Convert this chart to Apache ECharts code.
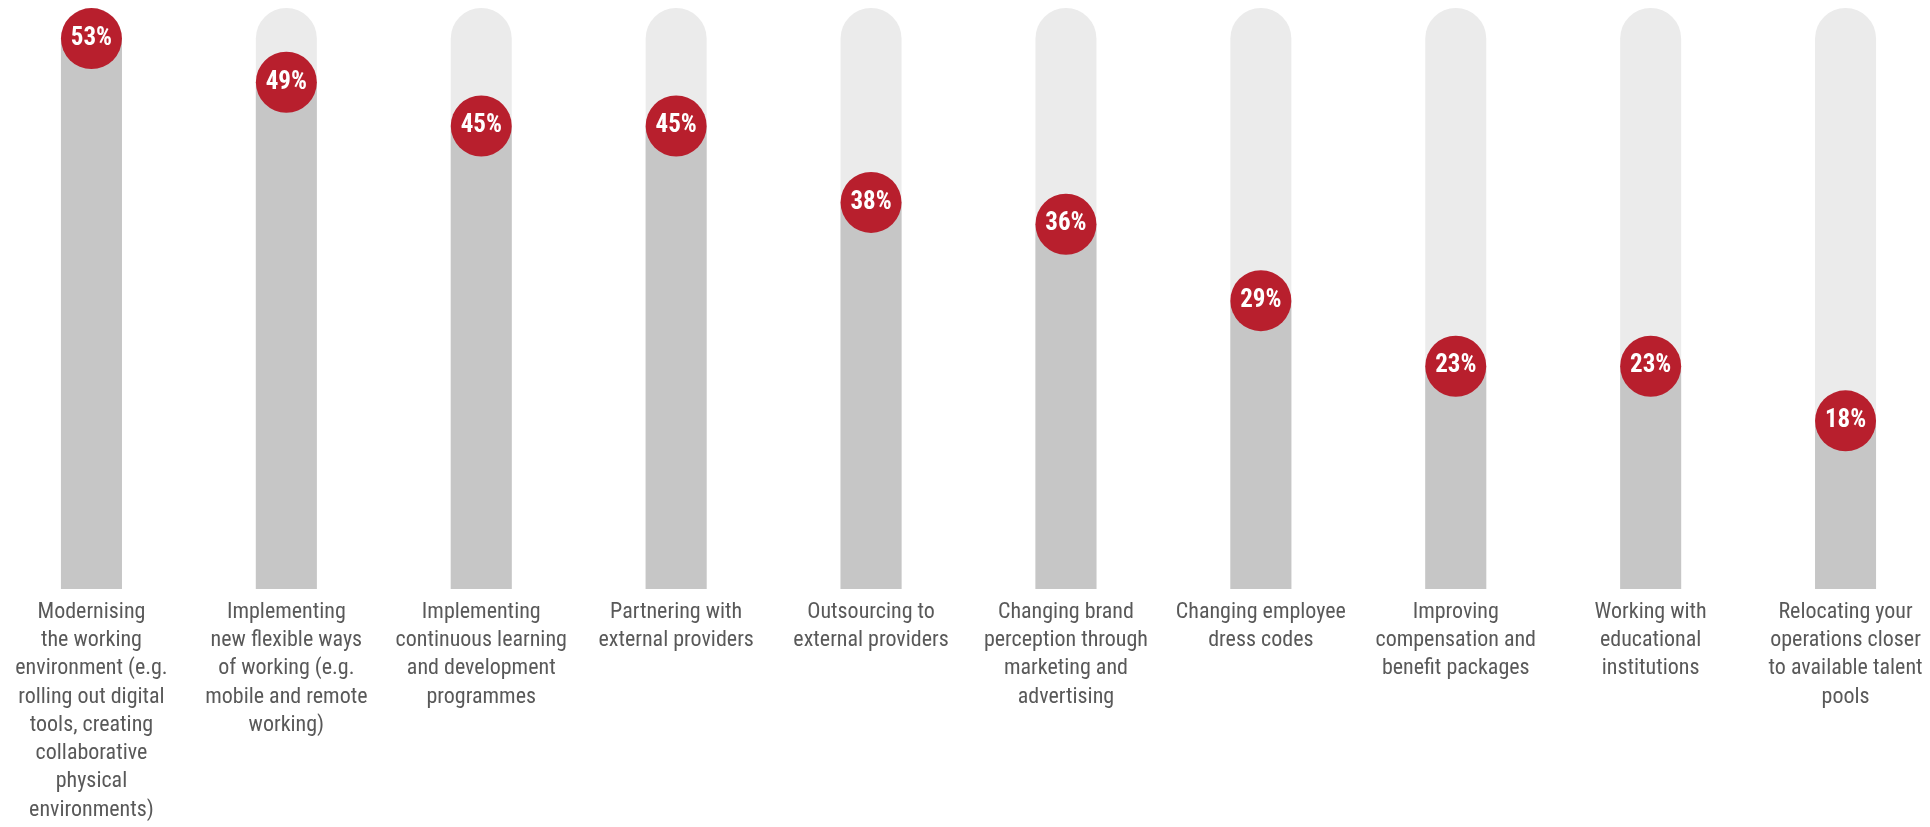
<!DOCTYPE html>
<html>
<head>
<meta charset="utf-8">
<script src="https://cdn.jsdelivr.net/npm/echarts@6/dist/echarts.min.js"></script>
<style>
html,body{margin:0;padding:0;background:#fff;}
#chart{width:1930px;height:827px;}
</style>
</head>
<body>
<div id="chart"></div>
<script>
const categories = [
  "Modernising\nthe working\nenvironment (e.g.\nrolling out digital\ntools, creating\ncollaborative\nphysical\nenvironments)",
  "Implementing\nnew flexible ways\nof working (e.g.\nmobile and remote\nworking)",
  "Implementing\ncontinuous learning\nand development\nprogrammes",
  "Partnering with\nexternal providers",
  "Outsourcing to\nexternal providers",
  "Changing brand\nperception through\nmarketing and\nadvertising",
  "Changing employee\ndress codes",
  "Improving\ncompensation and\nbenefit packages",
  "Working with\neducational\ninstitutions",
  "Relocating your\noperations closer\nto available talent\npools"
];
const values = [53, 49, 45, 45, 38, 36, 29, 23, 23, 18];

const chart = echarts.init(document.getElementById('chart'), null, {renderer: 'canvas'});
chart.setOption({
  animation: false,
  backgroundColor: '#ffffff',
  grid: {left: -6, width: 1949, top: 8, bottom: 238, containLabel: false, outerBoundsMode: 'none'},
  xAxis: {
    type: 'category',
    data: categories,
    axisLine: {show: false},
    axisTick: {show: false},
    axisLabel: {
      interval: 0,
      margin: 9,
      color: '#595959',
      fontSize: 22,
      lineHeight: 28.3,
      fontFamily: "'Roboto Condensed', 'Liberation Sans Narrow', Roboto, sans-serif",
      align: 'center'
    }
  },
  yAxis: {type: 'value', min: 2.6, max: 55.8, show: false, splitLine: {show: false}},
  series: [
    {
      type: 'bar',
      data: values,
      barWidth: 61,
      showBackground: true,
      backgroundStyle: {color: '#EBEBEB', borderRadius: [30.5, 30.5, 0, 0]},
      itemStyle: {color: '#C6C6C6'},
      z: 1
    },
    {
      type: 'scatter',
      data: values,
      symbol: 'circle',
      symbolSize: 61,
      itemStyle: {color: '#B81F2D', opacity: 1},
      label: {
        show: true,
        position: 'inside',
        formatter: '{c}%',
        color: '#ffffff',
        fontSize: 25,
        fontWeight: 'bold',
        fontFamily: "'Roboto Condensed', 'Liberation Sans Narrow', Roboto, sans-serif"
      },
      z: 3
    }
  ]
});
</script>
</body>
</html>
